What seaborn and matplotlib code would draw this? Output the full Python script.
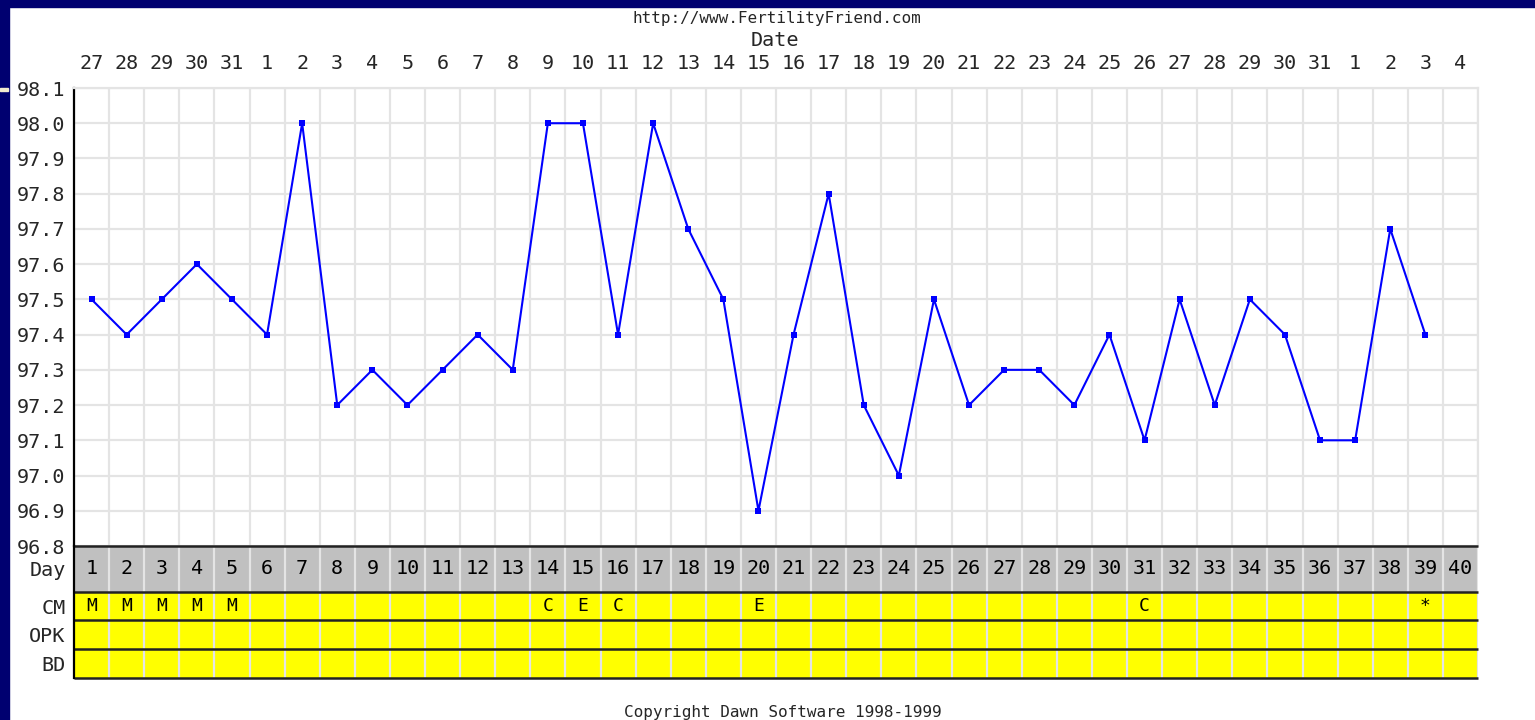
import numpy as np
import seaborn as sns
import matplotlib.pyplot as plt
from matplotlib.patches import Rectangle
from matplotlib.ticker import FixedLocator

# chart data
days = list(range(1, 41))
dates = [27, 28, 29, 30, 31] + list(range(1, 32)) + [1, 2, 3, 4]
temp_days = list(range(1, 40))
temps = [97.5, 97.4, 97.5, 97.6, 97.5, 97.4, 98.0, 97.2, 97.3, 97.2,
         97.3, 97.4, 97.3, 98.0, 98.0, 97.4, 98.0, 97.7, 97.5, 96.9,
         97.4, 97.8, 97.2, 97.0, 97.5, 97.2, 97.3, 97.3, 97.2, 97.4,
         97.1, 97.5, 97.2, 97.5, 97.4, 97.1, 97.1, 97.7, 97.4]
cm_marks = {1: 'M', 2: 'M', 3: 'M', 4: 'M', 5: 'M', 14: 'C', 15: 'E',
            16: 'C', 20: 'E', 31: 'C', 39: '*'}
temp_ticks = [96.8, 96.9, 97.0, 97.1, 97.2, 97.3, 97.4, 97.5, 97.6,
              97.7, 97.8, 97.9, 98.0, 98.1]
row_names = ['Day', 'CM', 'OPK', 'BD']

sns.set_style("white")
plt.rcParams['font.family'] = ['DejaVu Sans Mono']

W, H = 1535, 720
NAVY = '#000070'
GRID = '#e4e4e4'
DARK = '#222222'


def fa(x0, y0, x1, y1):
    # pixel box -> figure fraction rect
    return [x0 / W, 1 - y1 / H, (x1 - x0) / W, (y1 - y0) / H]


fig = plt.figure(figsize=(W / 100, H / 100), dpi=100)
fig.patch.set_facecolor('white')
fig.patches.append(Rectangle((0, 1 - 7 / H), 1, 7 / H, transform=fig.transFigure,
                             color=NAVY, zorder=0))
fig.patches.append(Rectangle((0, 0), 9 / W, 1, transform=fig.transFigure,
                             color=NAVY, zorder=0))
fig.patches.append(Rectangle((0, 1 - 91 / H), 8 / W, 3 / H, transform=fig.transFigure,
                             color='#f2ecd0', zorder=1))

# --- temperature chart ---
ax = fig.add_axes(fa(74, 88, 1478, 546))
ax.set_xlim(0.5, 40.5)
ax.set_ylim(96.8, 98.1)
sns.lineplot(x=temp_days, y=temps, ax=ax, color='#0000ff', lw=1.5,
             marker='s', markersize=5, markeredgewidth=0, zorder=5)

ax.set_yticks(temp_ticks)
ax.set_yticklabels([f'{t:.1f}' for t in temp_ticks], fontsize=14.5)
ax.xaxis.tick_top()
ax.set_xticks(days)
ax.set_xticklabels([str(d) for d in dates], fontsize=14.5)
ax.xaxis.set_minor_locator(FixedLocator(np.arange(0.5, 41, 1)))
ax.tick_params(axis='both', which='both', length=0)
ax.tick_params(axis='y', pad=6)
ax.tick_params(axis='x', pad=11)
ax.grid(False)
ax.grid(True, axis='y', which='major', color=GRID, lw=1.6, zorder=0)
ax.grid(True, axis='x', which='minor', color=GRID, lw=1.6, zorder=0)
ax.set_xlabel('')
ax.set_ylabel('')
ax.spines['left'].set_color('black')
ax.spines['left'].set_linewidth(1.6)
ax.spines['top'].set_color(GRID)
ax.spines['top'].set_linewidth(1.6)
ax.spines['right'].set_color(GRID)
ax.spines['right'].set_linewidth(1.6)
ax.spines['bottom'].set_visible(False)

# --- day / CM / OPK / BD table ---
tb = fig.add_axes(fa(74, 546, 1478, 678))
tb.set_xlim(0.5, 40.5)
tb.set_ylim(132, 0)
edges = [0, 46, 74, 103, 132]
colors = ['#c0c0c0', '#ffff00', '#ffff00', '#ffff00']
for i in range(4):
    tb.axhspan(edges[i], edges[i + 1], color=colors[i], lw=0, zorder=0)
tb.vlines(np.arange(1.5, 41, 1), 0, 132, color=GRID, lw=1.6, zorder=1)
tb.hlines(edges, 0.5, 40.5, color=DARK, lw=1.8, zorder=2, clip_on=False)
for d in days:
    tb.text(d, 23, str(d), ha='center', va='center', fontsize=14.5, color='black')
for d, m in cm_marks.items():
    tb.text(d, 60, m, ha='center', va='center', fontsize=13, color='black')
tb.set_xticks([])
tb.set_yticks([(edges[i] + edges[i + 1]) / 2 for i in range(4)])
tb.set_yticklabels(row_names, fontsize=14.5)
tb.tick_params(axis='y', length=0, pad=6)
for s in ['top', 'bottom', 'right']:
    tb.spines[s].set_visible(False)
tb.spines['left'].set_color('black')
tb.spines['left'].set_linewidth(1.6)

# --- header / footer text ---
fig.text(777 / W, 1 - 19 / H, 'http://www.FertilityFriend.com', ha='center',
         va='center', fontsize=11.5)
fig.text(775 / W, 1 - 41 / H, 'Date', ha='center', va='center', fontsize=14.5)
fig.text(783 / W, 1 - 712 / H, 'Copyright Dawn Software 1998-1999', ha='center',
         va='center', fontsize=11.5)

plt.savefig('out.png', dpi=100)
plt.close()
